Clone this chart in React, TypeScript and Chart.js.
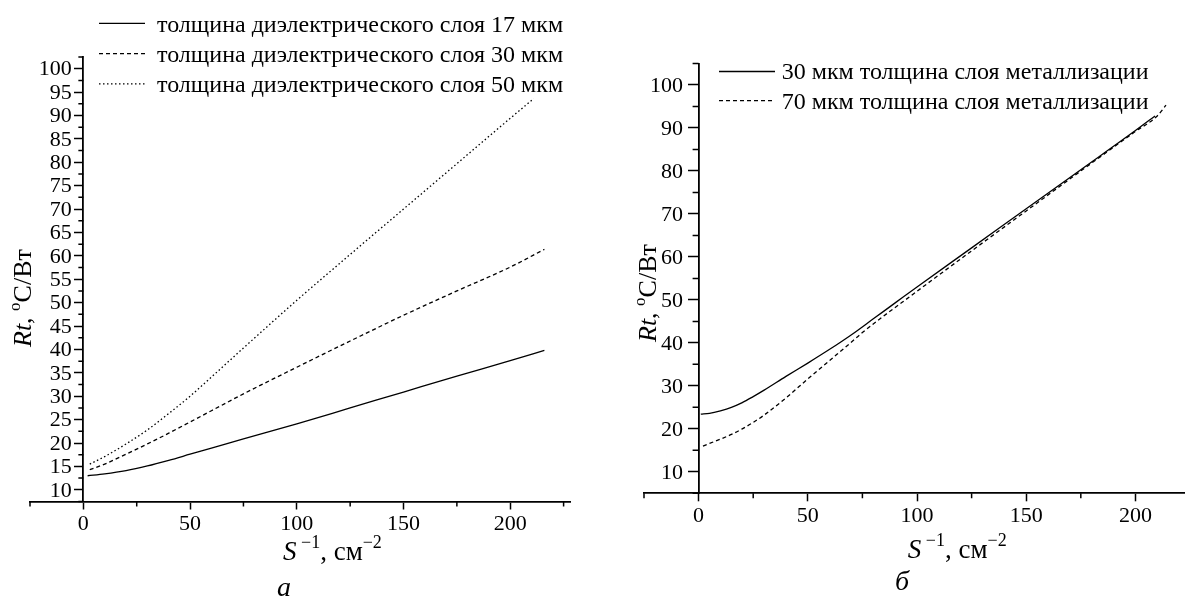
import React, { useEffect, useRef } from 'react';
import { Chart, registerables } from 'chart.js';

Chart.register(...registerables);

const FONT = '"Liberation Serif", "Times New Roman", Times, serif';

// ---------- Panel а ----------
const aLabels = [
  'толщина диэлектрического слоя 17 мкм',
  'толщина диэлектрического слоя 30 мкм',
  'толщина диэлектрического слоя 50 мкм',
];
const a17X = [2, 10, 20, 30, 40, 50, 60, 75, 100, 125, 150, 175, 200, 216];
const a17Y = [13.0, 13.4, 14.1, 15.1, 16.3, 17.6, 18.9, 20.9, 24.1, 27.5, 30.9, 34.3, 37.6, 39.8];
const a30X = [3, 10, 20, 30, 40, 50, 60, 75, 100, 125, 150, 175, 200, 216];
const a30Y = [14.3, 15.5, 17.6, 19.8, 22.1, 24.5, 26.9, 30.5, 36.2, 41.8, 47.3, 52.5, 57.6, 61.4];
const a50X = [3, 10, 20, 30, 40, 50, 60, 75, 100, 125, 150, 175, 200, 211];
const a50Y = [15.5, 17.1, 19.8, 22.8, 26.3, 30.0, 34.1, 40.3, 50.5, 60.3, 70.0, 79.7, 89.4, 93.6];
const aXTickLabels = [0, 50, 100, 150, 200];
const aYTickLabels = [10, 15, 20, 25, 30, 35, 40, 45, 50, 55, 60, 65, 70, 75, 80, 85, 90, 95, 100];

// ---------- Panel б ----------
const bLabels = [
  '30 мкм толщина слоя металлизации',
  '70 мкм толщина слоя металлизации',
];
const b30X = [1, 5, 10, 15, 20, 25, 30, 40, 50, 60, 70, 80, 90, 100, 125, 150, 175, 200, 209];
const b30Y = [23.4, 23.6, 24.2, 25.0, 26.1, 27.5, 29.0, 32.2, 35.3, 38.5, 41.9, 45.6, 49.3, 53.0, 62.1, 71.2, 80.3, 89.4, 92.8];
const b70X = [2, 5, 10, 15, 20, 25, 30, 40, 50, 60, 70, 75, 100, 125, 150, 175, 200, 210, 214];
const b70Y = [16.0, 16.6, 17.6, 18.7, 20.0, 21.5, 23.2, 27.2, 31.6, 35.9, 40.2, 42.4, 52.0, 61.4, 70.7, 80.0, 89.2, 92.8, 95.3];
const bXTickLabels = [0, 50, 100, 150, 200];
const bYTickLabels = [10, 20, 30, 40, 50, 60, 70, 80, 90, 100];

const zip = (xs: number[], ys: number[]) => xs.map((x, i) => ({ x, y: ys[i] }));
const inList = (list: number[], v: number) => list.some((m) => Math.abs(m - v) < 1e-6);

type Seg = { t: string; it?: boolean; sup?: boolean };

function drawRich(ctx: CanvasRenderingContext2D, segs: Seg[], x: number, y: number, size: number, supSize: number, rise: number) {
  let cx = x;
  for (const s of segs) {
    const fs = s.sup ? supSize : size;
    ctx.font = `${s.it ? 'italic ' : ''}${fs}px ${FONT}`;
    ctx.fillText(s.t, cx, s.sup ? y - rise : y);
    cx += ctx.measureText(s.t).width;
  }
}

const X_TITLE: Seg[] = [{ t: 'S', it: true }, { t: ' −1', sup: true }, { t: ', см' }, { t: '−2', sup: true }];
const Y_TITLE: Seg[] = [{ t: 'Rt', it: true }, { t: ', ' }, { t: 'o', sup: true }, { t: 'C/Вт' }];

const decorPlugin = {
  id: 'decor',
  afterDraw(chart: any, _args: any, o: any) {
    const ctx: CanvasRenderingContext2D = chart.ctx;
    const xs = chart.scales.x;
    const ys = chart.scales.y;
    ctx.save();
    // minor ticks
    ctx.strokeStyle = '#000';
    ctx.lineWidth = 1.5;
    const axisX = xs.getPixelForValue(0);
    const axisY = chart.chartArea.bottom;
    ctx.beginPath();
    xs.ticks.forEach((t: any) => {
      if (!inList(o.xMajor, t.value)) {
        const p = xs.getPixelForValue(t.value);
        ctx.moveTo(p, axisY);
        ctx.lineTo(p, axisY + o.xMinorLen);
      }
    });
    ys.ticks.forEach((t: any) => {
      if (!inList(o.yMajor, t.value)) {
        const p = ys.getPixelForValue(t.value);
        ctx.moveTo(axisX, p);
        ctx.lineTo(axisX - o.yMinorLen, p);
      }
    });
    ctx.stroke();

    // y tick labels (placed left of the y axis that crosses x = 0)
    ctx.fillStyle = '#000';
    ctx.font = `22px ${FONT}`;
    ctx.textAlign = 'right';
    ctx.textBaseline = 'middle';
    ys.ticks.forEach((t: any) => {
      if (inList(o.yMajor, t.value)) {
        ctx.fillText(String(t.value), axisX - o.yLabelGap, ys.getPixelForValue(t.value) + 1);
      }
    });

    // legend
    ctx.textAlign = 'left';
    ctx.textBaseline = 'alphabetic';
    chart.data.datasets.forEach((ds: any, i: number) => {
      const yb = o.legend.baselines[i];
      const ly = yb - o.legend.rise;
      ctx.setLineDash(ds.borderDash || []);
      ctx.lineWidth = ds.borderWidth;
      ctx.beginPath();
      ctx.moveTo(o.legend.x0, ly);
      ctx.lineTo(o.legend.x1, ly);
      ctx.stroke();
      ctx.setLineDash([]);
      ctx.font = `${o.legend.size}px ${FONT}`;
      ctx.fillText(ds.label, o.legend.tx, yb);
    });

    // x title
    drawRich(ctx, X_TITLE, o.xTitle.x, o.xTitle.y, 27, 18, 12);
    // y title (rotated)
    ctx.save();
    ctx.translate(o.yTitle.x, o.yTitle.y);
    ctx.rotate(-Math.PI / 2);
    drawRich(ctx, Y_TITLE, 0, 0, 26, 17, 11);
    ctx.restore();
    // panel letter
    ctx.font = `italic 28px ${FONT}`;
    ctx.textAlign = 'center';
    ctx.fillText(o.panel.text, o.panel.x, o.panel.y);
    ctx.restore();
  },
};

function makeChart(canvas: HTMLCanvasElement, p: any) {
  const tickFont = { family: FONT, size: 22 };
  return new Chart(canvas, {
    type: 'line',
    data: { datasets: p.datasets },
    options: {
      responsive: false,
      animation: false,
      devicePixelRatio: 1,
      events: [],
      layout: { padding: p.padding },
      elements: { point: { radius: 0 } },
      plugins: {
        legend: { display: false },
        tooltip: { enabled: false },
        decor: p.decor,
      } as any,
      scales: {
        x: {
          type: 'linear',
          position: 'bottom',
          min: p.xMin,
          max: p.xMax,
          afterFit: (s: any) => {
            s.height = p.xHeight;
          },
          ticks: {
            stepSize: p.xStep,
            includeBounds: false,
            autoSkip: false,
            maxRotation: 0,
            padding: 2,
            color: '#000',
            font: tickFont,
            callback: (v: any) => (inList(p.xLabels, Number(v)) ? String(v) : ''),
          },
          grid: {
            drawOnChartArea: false,
            drawTicks: true,
            tickLength: p.xTickLen,
            tickWidth: 1.5,
            tickColor: (c: any) => (c.tick && inList(p.xLabels, c.tick.value) ? '#000' : 'rgba(0,0,0,0)'),
          },
          border: { display: true, color: '#000', width: 1.8 },
        },
        y: {
          type: 'linear',
          position: { x: 0 } as any,
          min: p.yMin,
          max: p.yMax,
          ticks: {
            stepSize: p.yStep,
            includeBounds: false,
            autoSkip: false,
            color: 'rgba(0,0,0,0)',
            font: tickFont,
            callback: (v: any) => (inList(p.yLabels, Number(v)) ? String(v) : ''),
          },
          grid: {
            drawOnChartArea: false,
            drawTicks: true,
            tickLength: p.yTickLen,
            tickWidth: 1.5,
            tickColor: (c: any) => (c.tick && inList(p.yLabels, c.tick.value) ? '#000' : 'rgba(0,0,0,0)'),
          },
          border: { display: true, color: '#000', width: 1.8 },
        },
      },
    } as any,
    plugins: [decorPlugin as any],
  });
}

const lineDs = (label: string, data: any[], dash: number[]) => ({
  label,
  data,
  borderColor: '#000',
  borderWidth: 1.3,
  borderDash: dash,
  fill: false,
  cubicInterpolationMode: 'monotone',
  pointRadius: 0,
});

export default function App() {
  const leftRef = useRef<HTMLCanvasElement>(null);
  const rightRef = useRef<HTMLCanvasElement>(null);

  useEffect(() => {
    const left = makeChart(leftRef.current!, {
      datasets: [
        lineDs(aLabels[0], zip(a17X, a17Y), []),
        lineDs(aLabels[1], zip(a30X, a30Y), [4, 3]),
        lineDs(aLabels[2], zip(a50X, a50Y), [1.5, 2.5]),
      ],
      padding: { left: 30, top: 57, right: 25, bottom: 0 },
      xHeight: 96.5,
      xMin: -25,
      xMax: 228,
      xStep: 25,
      xLabels: aXTickLabels,
      xTickLen: 8,
      yMin: 7.5,
      yMax: 102.5,
      yStep: 2.5,
      yLabels: aYTickLabels,
      yTickLen: 8,
      decor: {
        xMajor: aXTickLabels,
        yMajor: aYTickLabels,
        xMinorLen: 5,
        yMinorLen: 5,
        yLabelGap: 11.5,
        legend: { x0: 99, x1: 145, tx: 157, baselines: [31.7, 61.9, 92.2], rise: 8.3, size: 24 },
        xTitle: { x: 283, y: 560 },
        yTitle: { x: 30.5, y: 347 },
        panel: { text: 'а', x: 284, y: 596 },
      },
    });
    const right = makeChart(rightRef.current!, {
      datasets: [
        lineDs(bLabels[0], zip(b30X, b30Y), []),
        lineDs(bLabels[1], zip(b70X, b70Y), [4, 3]),
      ],
      padding: { left: 49, top: 63.5, right: 0, bottom: 0 },
      xHeight: 104.7,
      xMin: -25,
      xMax: 222.7,
      xStep: 25,
      xLabels: bXTickLabels,
      xTickLen: 8,
      yMin: 5,
      yMax: 105,
      yStep: 5,
      yLabels: bYTickLabels,
      yTickLen: 10,
      decor: {
        xMajor: bXTickLabels,
        yMajor: bYTickLabels,
        xMinorLen: 5,
        yMinorLen: 6,
        yLabelGap: 15.5,
        legend: { x0: 124, x1: 180, tx: 186.7, baselines: [79.3, 108.5], rise: 7.8, size: 24 },
        xTitle: { x: 312.8, y: 558.3 },
        yTitle: { x: 61, y: 342 },
        panel: { text: 'б', x: 307, y: 590 },
      },
    });
    return () => {
      left.destroy();
      right.destroy();
    };
  }, []);

  return (
    <div style={{ position: 'fixed', left: 0, top: 0, width: 1185, height: 598, background: '#fff', overflow: 'hidden' }}>
      <canvas ref={leftRef} width={595} height={598} style={{ position: 'absolute', left: 0, top: 0, width: 595, height: 598 }} />
      <canvas ref={rightRef} width={590} height={598} style={{ position: 'absolute', left: 595, top: 0, width: 590, height: 598 }} />
    </div>
  );
}
